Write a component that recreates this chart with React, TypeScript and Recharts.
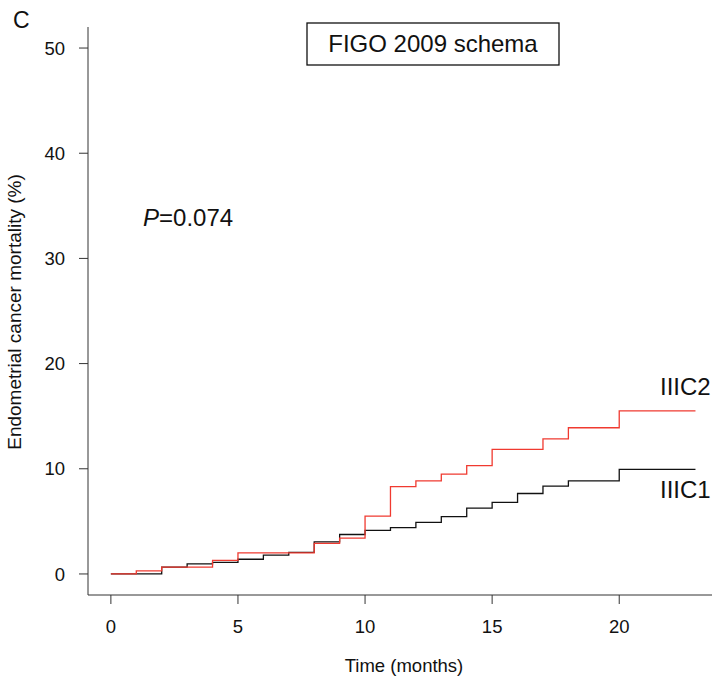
import React from "react";
import { LineChart, Line, XAxis, YAxis, Customized } from "recharts";

const iiic2Time = [0, 1, 2, 4, 5, 8, 9, 10, 11, 12, 13, 14, 15, 17, 18, 20, 23];
const iiic2Mort = [0, 0.3, 0.65, 1.3, 2.0, 2.9, 3.4, 5.5, 8.3, 8.85, 9.5, 10.3, 11.85, 12.85, 13.9, 15.5, 15.5];
const iiic1Time = [0, 2, 3, 4, 5, 6, 7, 8, 9, 10, 11, 12, 13, 14, 15, 16, 17, 18, 20, 23];
const iiic1Mort = [0, 0.65, 0.95, 1.1, 1.4, 1.8, 2.05, 3.05, 3.75, 4.15, 4.4, 4.9, 5.45, 6.25, 6.8, 7.65, 8.35, 8.85, 9.95, 9.95];
const xTicks = [0, 5, 10, 15, 20];
const yTicks = [0, 10, 20, 30, 40, 50];

const iiic2Data = iiic2Time.map((t, i) => ({ t, v: iiic2Mort[i] }));
const iiic1Data = iiic1Time.map((t, i) => ({ t, v: iiic1Mort[i] }));

const FONT = "'Liberation Sans', Arial, sans-serif";

const Annotations = () => (
  <g fontFamily={FONT} fill="#111">
    <text x={13} y={28} fontSize={23}>C</text>
    <rect x={307} y={23} width={252} height={42} fill="#fff" stroke="#111" strokeWidth={1.3} />
    <text x={433} y={52} fontSize={24} textAnchor="middle">FIGO 2009 schema</text>
    <text x={143} y={226} fontSize={24}>
      <tspan fontStyle="italic">P</tspan>=0.074
    </text>
    <text x={660} y={395} fontSize={24}>IIIC2</text>
    <text x={660} y={498} fontSize={24}>IIIC1</text>
    <text x={20.5} y={312} fontSize={19} textAnchor="middle" transform="rotate(-90 20.5 312)">
      Endometrial cancer mortality (%)
    </text>
    <text x={404} y={672} fontSize={18.5} textAnchor="middle">Time (months)</text>
  </g>
);

export default function App() {
  return (
    <div style={{ position: "absolute", left: 0, top: 0, background: "#fff" }}>
      <LineChart width={712} height={679} margin={{ top: 27, right: 0, bottom: 0, left: 0 }}>
        <XAxis
          type="number"
          dataKey="t"
          domain={[-0.9, 23.65]}
          allowDataOverflow
          ticks={xTicks}
          height={84}
          tickSize={9}
          tickMargin={16}
          stroke="#333"
          tick={{ fill: "#111", fontSize: 18.5, fontFamily: FONT }}
          tickLine={{ stroke: "#333" }}
        />
        <YAxis
          type="number"
          dataKey="v"
          domain={[-2, 52]}
          allowDataOverflow
          ticks={yTicks}
          width={88}
          tickSize={9}
          tickMargin={14}
          stroke="#333"
          tick={{ fill: "#111", fontSize: 18.5, fontFamily: FONT }}
          tickLine={{ stroke: "#333" }}
        />
        <Line data={iiic1Data} dataKey="v" type="stepAfter" stroke="#111" strokeWidth={1.3} dot={false} isAnimationActive={false} />
        <Line data={iiic2Data} dataKey="v" type="stepAfter" stroke="#f03a30" strokeWidth={1.3} dot={false} isAnimationActive={false} />
        <Customized component={Annotations} />
      </LineChart>
    </div>
  );
}
